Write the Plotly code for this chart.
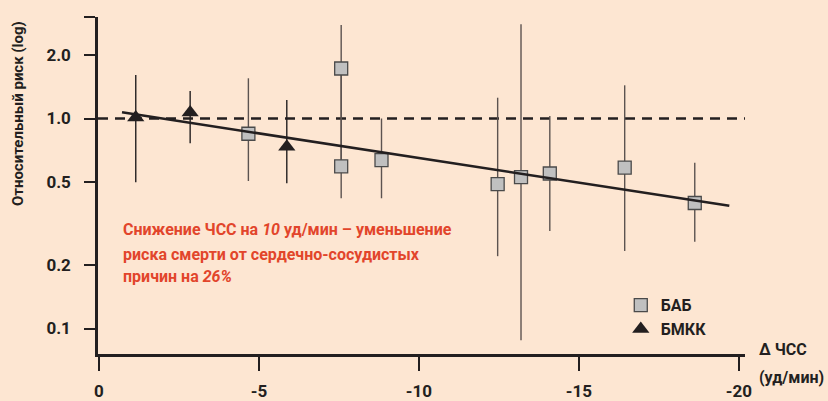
import plotly.graph_objects as go

# Change in heart rate (bpm) vs relative risk of cardiovascular death
bab_x = [-4.67, -7.57, -7.57, -8.83, -12.46, -13.19, -14.09, -16.43, -18.62]
bab_rr = [0.846, 1.730, 0.592, 0.634, 0.487, 0.526, 0.547, 0.584, 0.396]
bab_hi = [1.554, 2.787, 1.730, 1.000, 1.256, 2.809, 1.028, 1.439, 0.616]
bab_lo = [0.504, 0.592, 0.417, 0.417, 0.221, 0.088, 0.291, 0.234, 0.259]

bmkk_x = [-1.15, -2.85, -5.87]
bmkk_rr = [1.011, 1.068, 0.733]
bmkk_hi = [1.611, 1.352, 1.225]
bmkk_lo = [0.497, 0.762, 0.491]

trend_x = [-0.72, -19.70]
trend_rr = [1.070, 0.384]

x_ticks = [0, -5, -10, -15, -20]
x_tick_text = ["0", "-5", "-10", "-15", "-20"]
y_ticks = [0.1, 0.2, 0.5, 1.0, 2.0, 3.04]
y_tick_text = ["0.1", "0.2", "0.5", "1.0", "2.0", ""]

INK = "#231f20"
BG = "#fde6d2"
RED = "#e2452b"
BAR = "#5c5350"
FONT = "Roboto, sans-serif"

X_RANGE = [0.03, -20.19]


def err(vals, hi, lo):
    return [h - v for h, v in zip(hi, vals)], [v - l for v, l in zip(vals, lo)]


fig = go.Figure()

# reference line RR = 1
fig.add_trace(go.Scatter(
    x=X_RANGE, y=[1.0, 1.0], mode="lines",
    line=dict(color=INK, width=2.5, dash="10px,7px"),
    showlegend=False, hoverinfo="skip", cliponaxis=False,
))

up, dn = err(bab_rr, bab_hi, bab_lo)
fig.add_trace(go.Scatter(
    x=bab_x, y=bab_rr, mode="markers", name="БАБ",
    marker=dict(symbol="square", size=13, color="#c0c0c0",
                line=dict(color="#4a4a4a", width=1.3)),
    error_y=dict(type="data", array=up, arrayminus=dn, symmetric=False,
                 color=BAR, thickness=1.4, width=0),
    cliponaxis=False,
))

up, dn = err(bmkk_rr, bmkk_hi, bmkk_lo)
fig.add_trace(go.Scatter(
    x=bmkk_x, y=bmkk_rr, mode="markers", name="БМКК",
    marker=dict(symbol="triangle-up", size=15, color=INK,
                line=dict(width=0)),
    error_y=dict(type="data", array=up, arrayminus=dn, symmetric=False,
                 color=INK, thickness=1.4, width=0),
    cliponaxis=False,
))

# regression line
fig.add_trace(go.Scatter(
    x=trend_x, y=trend_rr, mode="lines",
    line=dict(color=INK, width=2.6),
    showlegend=False, hoverinfo="skip",
))

tickfont = dict(family=FONT, size=17, color=INK, weight="bold")

fig.update_xaxes(
    range=X_RANGE, tickvals=x_ticks, ticktext=x_tick_text,
    showline=True, linecolor=INK, linewidth=2.5,
    ticks="outside", ticklen=14, tickwidth=2.2, tickcolor=INK,
    showgrid=False, zeroline=False, tickfont=tickfont,
    ticklabelstandoff=6, automargin=False,
)
fig.update_yaxes(
    type="log", range=[-1.1214, 0.4833], tickvals=y_ticks, ticktext=y_tick_text,
    showline=True, linecolor=INK, linewidth=2.5,
    ticks="outside", ticklen=11, tickwidth=2.2, tickcolor=INK,
    showgrid=False, zeroline=False, tickfont=tickfont,
    ticklabelstandoff=10, automargin=False,
)

ann = []
# y axis title
ann.append(dict(
    text="Относительный риск (log)", textangle=-90,
    x=-0.1236, y=0.712, xref="paper", yref="paper",
    xanchor="center", yanchor="middle", showarrow=False,
    font=dict(family=FONT, size=15, color=INK, weight="bold"),
))
# x axis title
for txt, yy in [("Δ ЧСС", 0.0119), ("(уд/мин)", -0.0712)]:
    ann.append(dict(
        text=txt, x=1.0185, y=yy, xref="paper", yref="paper",
        xanchor="left", yanchor="middle", showarrow=False,
        font=dict(family=FONT, size=16, color=INK, weight="bold"),
    ))
# key finding
lines = [
    "Снижение ЧСС на <i>10</i> уд/мин – уменьшение",
    "риска смерти от сердечно-сосудистых",
    "причин на <i>26%</i>",
]
for txt, yy in zip(lines, [0.368, 0.2967, 0.2285]):
    ann.append(dict(
        text=txt, x=0.0355, y=yy, xref="paper", yref="paper",
        xanchor="left", yanchor="middle", showarrow=False, align="left",
        font=dict(family=FONT, size=16, color=RED, weight="bold"),
    ))

fig.update_layout(
    width=828, height=401,
    margin=dict(l=98, r=83, t=17, b=47),
    paper_bgcolor=BG, plot_bgcolor=BG,
    annotations=ann,
    legend=dict(
        x=0.808, y=0.195, xanchor="left", yanchor="top",
        bgcolor="rgba(0,0,0,0)", tracegroupgap=0,
        font=dict(family=FONT, size=16, color=INK, weight="bold"),
        itemsizing="trace",
    ),
)

fig.write_html("out.html")
